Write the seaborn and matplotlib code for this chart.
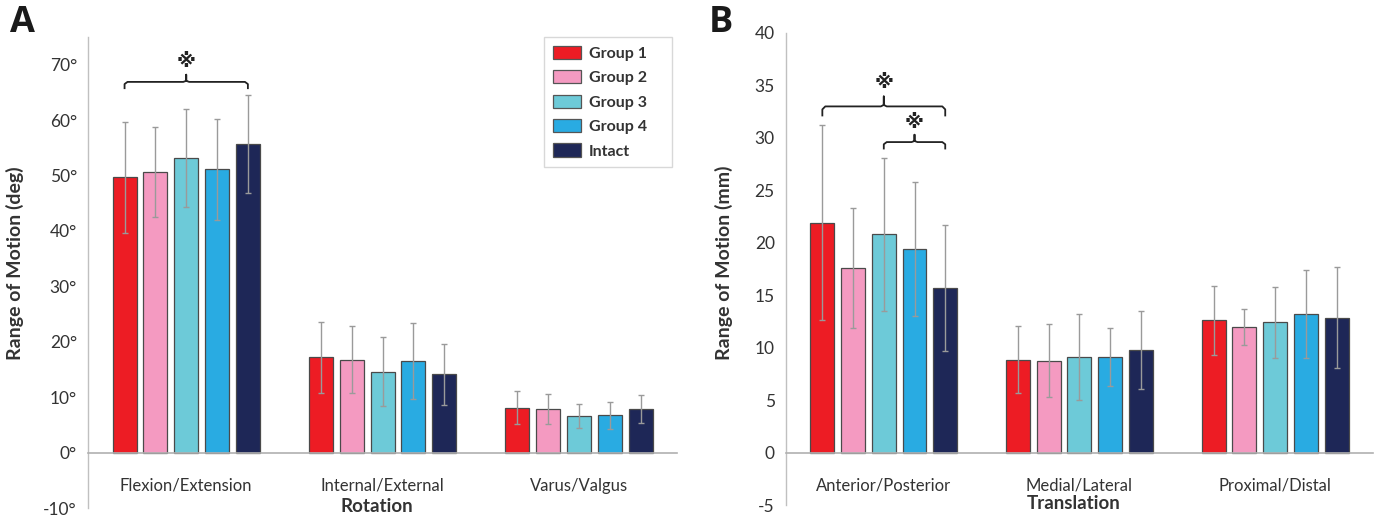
import numpy as np
import pandas as pd
import matplotlib
matplotlib.use("Agg")
import matplotlib.pyplot as plt
import seaborn as sns

groups = ["Group 1", "Group 2", "Group 3", "Group 4", "Intact"]
colors = ["#ED1C24", "#F49AC1", "#6DCAD8", "#29ABE2", "#1E2757"]

rot_cats = ["Flexion/Extension", "Internal/External", "Varus/Valgus"]
rot_mean = {
    "Group 1": [49.7, 17.2, 8.1],
    "Group 2": [50.6, 16.8, 7.9],
    "Group 3": [53.2, 14.6, 6.6],
    "Group 4": [51.1, 16.5, 6.7],
    "Intact":  [55.7, 14.1, 7.9],
}
rot_sd = {
    "Group 1": [10.0, 6.4, 3.0],
    "Group 2": [8.1, 6.0, 2.7],
    "Group 3": [8.8, 6.2, 2.1],
    "Group 4": [9.1, 6.8, 2.5],
    "Intact":  [8.9, 5.5, 2.5],
}

tr_cats = ["Anterior/Posterior", "Medial/Lateral", "Proximal/Distal"]
tr_mean = {
    "Group 1": [21.9, 8.85, 12.6],
    "Group 2": [17.6, 8.75, 12.0],
    "Group 3": [20.8, 9.1, 12.4],
    "Group 4": [19.4, 9.1, 13.2],
    "Intact":  [15.7, 9.8, 12.85],
}
tr_sd = {
    "Group 1": [9.3, 3.2, 3.3],
    "Group 2": [5.7, 3.5, 1.7],
    "Group 3": [7.3, 4.1, 3.4],
    "Group 4": [6.4, 2.8, 4.2],
    "Intact":  [6.0, 3.7, 4.8],
}

rot_ticks = [-10, 0, 10, 20, 30, 40, 50, 60, 70]
tr_ticks = [-5, 0, 5, 10, 15, 20, 25, 30, 35, 40]

sns.set_style("white")
plt.rcParams["font.family"] = ["Lato", "DejaVu Sans", "Noto Sans CJK JP"]

fig = plt.figure(figsize=(13.82, 5.17), dpi=100)
axA = fig.add_axes([0.0637, 0.0174, 0.4263, 0.911])
axB = fig.add_axes([0.5687, 0.0232, 0.4248, 0.9130])

TXT = "#333333"


def long_df(cats, means):
    rows = []
    for g in groups:
        for c, v in zip(cats, means[g]):
            rows.append({"motion": c, "group": g, "value": v})
    return pd.DataFrame(rows)


def draw(ax, cats, means, sds, ylim, ticks, fmt, ylabel, xlabel):
    df = long_df(cats, means)
    sns.barplot(data=df, x="motion", y="value", hue="group", order=cats,
                hue_order=groups, palette=colors, saturation=1,
                width=0.785, gap=0.22,
                edgecolor="#4a4a4a", linewidth=0.9, errorbar=None, ax=ax,
                legend=True)
    centers = {}
    for g, cont in zip(groups, ax.containers):
        xs = [b.get_x() + b.get_width() / 2 for b in cont]
        centers[g] = xs
        ax.errorbar(xs, means[g], yerr=sds[g], fmt="none", ecolor="#9a9a9a",
                    elinewidth=1.0, capsize=2.5, capthick=1.0, zorder=3)
    ax.set_xlim(-0.5, 2.5)
    ax.set_ylim(*ylim)
    ax.set_yticks(ticks)
    ax.set_yticklabels([fmt.format(t) for t in ticks])
    for s in ["top", "right"]:
        ax.spines[s].set_visible(False)
    ax.spines["left"].set_color("#c0c0c0")
    ax.spines["bottom"].set_color("#b0b0b0")
    ax.spines["bottom"].set_position(("data", 0))
    ax.spines["left"].set_linewidth(1.0)
    ax.spines["bottom"].set_linewidth(1.2)
    ax.tick_params(axis="y", direction="in", length=5, color="#c0c0c0",
                   labelsize=12.5, labelcolor=TXT, pad=8)
    ax.tick_params(axis="x", direction="out", length=4, color="#b0b0b0",
                   labelsize=12, labelcolor=TXT, pad=14)
    ax.set_ylabel(ylabel, fontsize=14, fontweight="bold", color=TXT)
    ax.set_xlabel("")
    ax.text(0.49, 0.003, xlabel, transform=ax.transAxes, ha="center",
            va="center", fontsize=13.5, fontweight="bold", color=TXT)
    return centers


def brace(ax, x1, x2, y, d):
    xm = (x1 + x2) / 2
    r = 0.015
    xs = [x1, x1, x1 + r, xm - r, xm, xm, xm, xm + r, x2 - r, x2, x2]
    ys = [y - d, y - d * 0.3, y, y, y + d * 0.15, y + d, y + d * 0.15, y, y, y - d * 0.3, y - d]
    ax.plot(xs, ys, color="#222222", lw=1.3, solid_joinstyle="round",
            solid_capstyle="butt", zorder=4)
    return xm


cA = draw(axA, rot_cats, rot_mean, rot_sd, (-10, 75), rot_ticks, "{}°",
          "Range of Motion (deg)", "Rotation")
cB = draw(axB, tr_cats, tr_mean, tr_sd, (-5, 40), tr_ticks, "{}",
          "Range of Motion (mm)", "Translation")

axA.yaxis.set_label_coords(-0.108, 0.52)
axB.yaxis.set_label_coords(-0.09, 0.513)

# legend
handles, labels = axA.get_legend_handles_labels()
for h in handles:
    h.set_edgecolor("#555555")
    h.set_linewidth(0.9)
leg = axA.legend(handles, labels, loc="upper left",
                 bbox_to_anchor=(0.774, 0.0, 0.217, 1.0), mode="expand",
                 frameon=True, fancybox=False,
                 framealpha=1, edgecolor="#d8d8d8",
                 prop={"weight": "bold", "size": 11.5}, handlelength=1.75,
                 handleheight=0.9, labelspacing=0.58, borderpad=0.55,
                 handletextpad=0.5, borderaxespad=0)
for t in leg.get_texts():
    t.set_color(TXT)
axB.get_legend().remove()

sym_family = ["DejaVu Sans", "Noto Sans CJK JP"]

# significance marks
xm = brace(axA, cA["Group 1"][0], cA["Intact"][0], 66.9, 1.3)
axA.text(xm, 70.6, "※", ha="center", va="center", fontsize=14,
         fontweight="bold", family=sym_family, color="#222222")

xm = brace(axB, cB["Group 1"][0], cB["Intact"][0], 33.0, 0.95)
axB.text(xm, 35.3, "※", ha="center", va="center", fontsize=14,
         fontweight="bold", family=sym_family, color="#222222")
xm = brace(axB, cB["Group 3"][0], cB["Intact"][0], 29.6, 0.7)
axB.text(xm, 31.5, "※", ha="center", va="center", fontsize=14,
         fontweight="bold", family=sym_family, color="#222222")

fig.text(0.007, 0.955, "A", fontsize=26, fontweight="bold", color="#1a1a1a",
         va="center", ha="left", family="Open Sans")
fig.text(0.513, 0.955, "B", fontsize=26, fontweight="bold", color="#1a1a1a",
         va="center", ha="left", family="Open Sans")

fig.savefig("out.png", dpi=100)
